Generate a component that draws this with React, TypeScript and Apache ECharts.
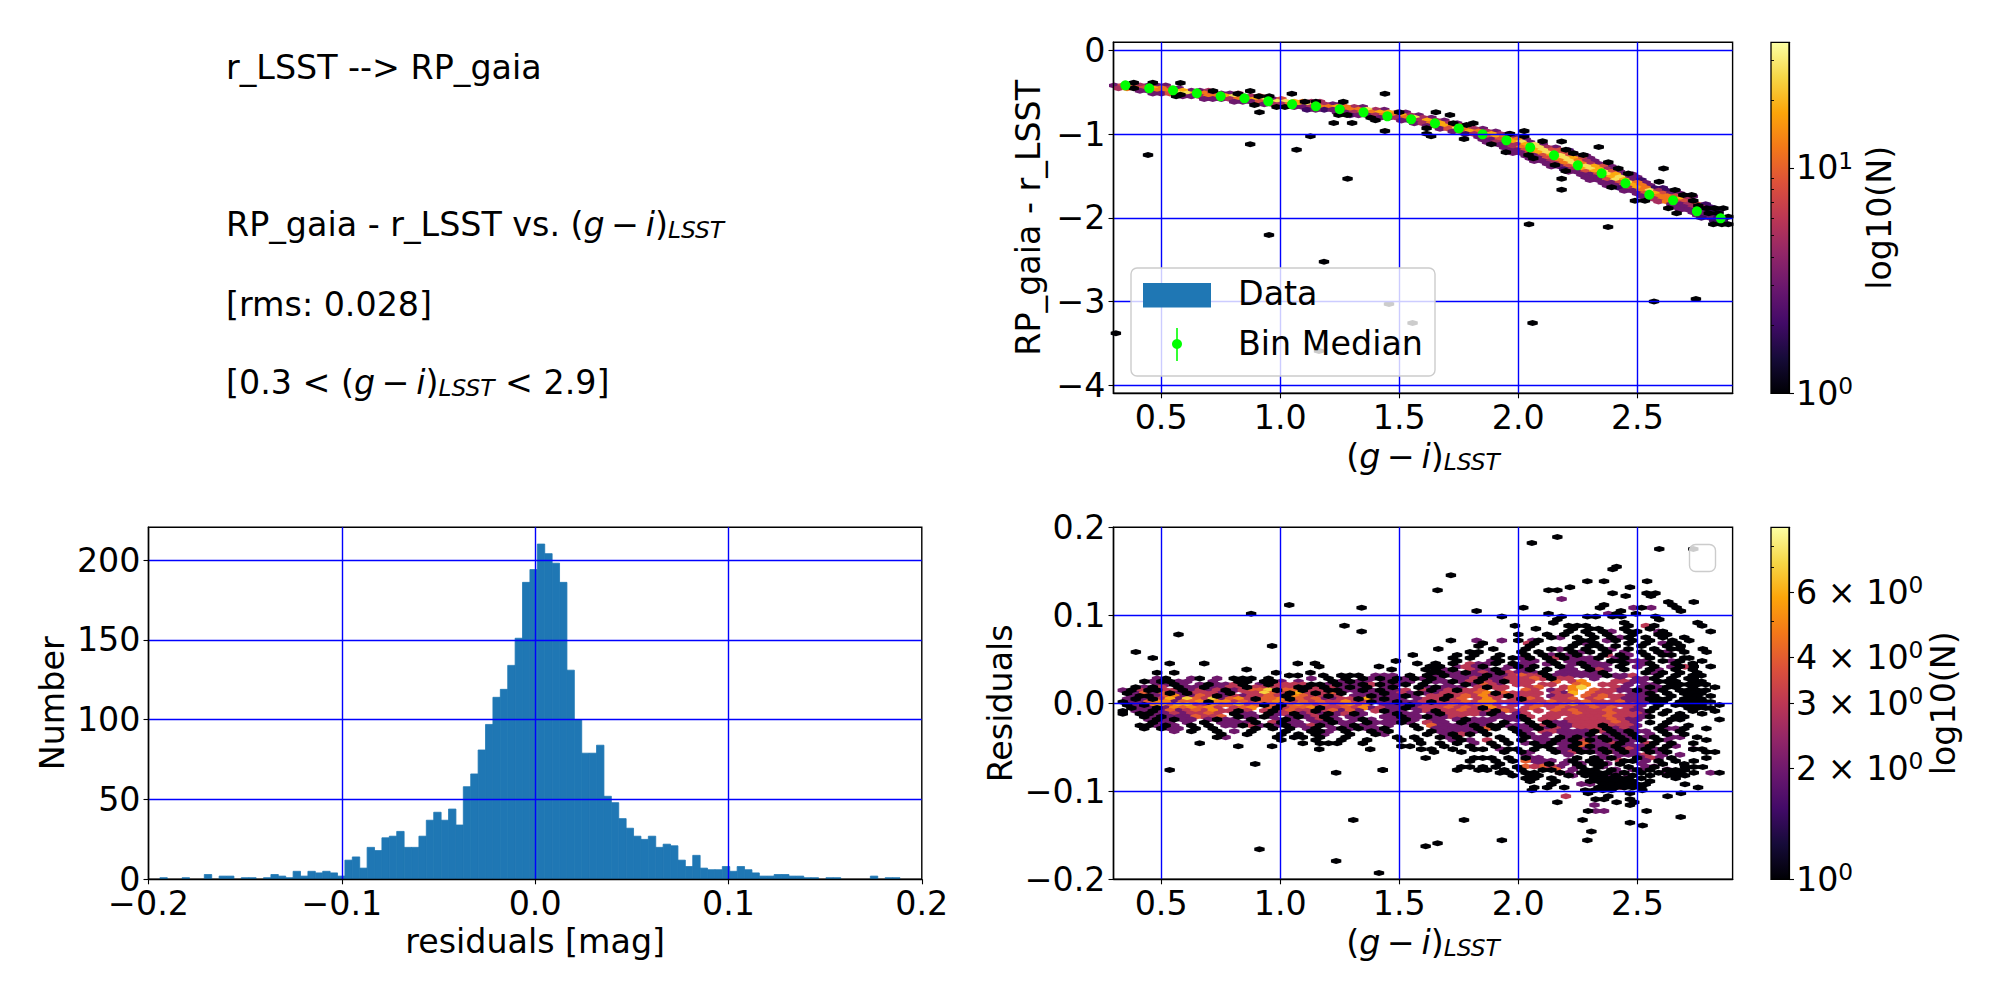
import React, { useEffect, useRef } from 'react';
import * as echarts from 'echarts';

// histogram of residuals
const histStart = -0.1941;
const histBinWidth = 0.003828;
const histCounts = [
  1, 0, 0, 1, 0, 0, 3, 0, 2, 2, 0, 1, 1, 0, 1, 3, 2, 1, 5, 2,
  5, 4, 5, 4, 2, 12, 14, 7, 20, 18, 26, 27, 30, 20, 20, 27, 37, 42, 37, 44,
  34, 58, 66, 81, 97, 114, 119, 134, 151, 186, 194, 210, 204, 198, 186, 131, 100, 79, 79, 84,
  52, 48, 38, 32, 27, 25, 27, 20, 22, 21, 12, 8, 15, 7, 6, 6, 8, 5, 8, 6,
  4, 2, 2, 3, 3, 2, 2, 1, 1, 0, 1, 1, 0, 0, 0, 0, 2, 0, 1, 1,
];

// bin medians of the colour term
const medianX = [0.35, 0.45, 0.55, 0.65, 0.75, 0.85, 0.95, 1.05, 1.15, 1.25, 1.35, 1.45, 1.55, 1.65, 1.75, 1.85, 1.95, 2.05, 2.15, 2.25, 2.35, 2.45, 2.55, 2.65, 2.75, 2.85];
const medianY = [-0.418, -0.454, -0.478, -0.513, -0.549, -0.573, -0.609, -0.645, -0.669, -0.704, -0.74, -0.788, -0.824, -0.872, -0.932, -1.003, -1.075, -1.159, -1.254, -1.373, -1.469, -1.588, -1.725, -1.791, -1.923, -2.006];

// hexbin cells, one row per line: [y, count, ...x]
const colourSparseRows = [
  [-0.386, 1, 0.385, 0.465], [-0.39, 1, 0.581], [-0.454, 1, 0.385], [-0.529, 1, 0.581], [-0.549, 1, 0.563, 0.91, 0.954],
  [-0.486, 1, 0.718, 0.874], [-0.517, 1, 0.822, 1.049, 1.44], [-0.653, 1, 0.892], [-0.74, 1, 0.913, 1.5, 1.654],
  [-0.677, 1, 0.985, 1.02], [-0.613, 1, 1.104, 1.15, 1.265], [-0.868, 1, 1.225, 1.302], [-0.772, 1, 1.245, 1.281, 1.713],
  [-0.804, 1, 1.38], [-0.836, 1, 1.4], [-0.963, 1, 1.44], [-0.931, 1, 1.615], [-1.027, 1, 1.634, 1.127, 2.025], [-0.995, 1, 1.615, 1.965],
  [-1.25, 1, 0.445, 2.273, 2.043], [-1.122, 1, 0.874, 1.887], [-1.186, 1, 1.069, 2.2], [-1.534, 1, 1.283, 2.182],
  [-0.872, 1, 1.811, 1.727], [-0.892, 1, 1.783], [-1.06, 1, 1.772], [-1.218, 1, 1.948], [-0.964, 1, 2.025], [-1.29, 1, 2.063],
  [-1.087, 1, 2.102], [-1.09, 1, 2.182], [-1.23, 1, 2.231], [-1.155, 1, 2.338], [-1.37, 1, 2.154], [-1.44, 1, 2.199],
  [-1.664, 1, 2.182], [-1.338, 1, 2.378], [-1.41, 1, 2.42, 2.61], [-1.47, 1, 2.462], [-1.569, 1, 2.591], [-1.636, 1, 2.392],
  [-1.796, 1, 2.49, 2.532, 2.735], [-1.668, 1, 2.658], [-1.727, 1, 2.693, 2.728], [-1.855, 1, 2.756], [-1.887, 1, 2.63, 2.791, 2.826, 2.861],
  [-1.947, 1, 2.665, 2.8, 2.84], [-1.987, 1, 2.882], [-2.078, 1, 2.819, 2.855, 2.882, 2.045], [-2.11, 1, 2.377],
  [-2.524, 1, 1.184], [-2.205, 1, 0.953], [-3.0, 1, 2.57], [-2.97, 1, 2.746], [-3.256, 1, 2.06, 1.556], [-3.03, 1, 1.457], [-3.38, 1, 0.31], [-3.59, 1, 1.163],
];
const colourRidgeRows = [
  [-0.42, 3, 0.303, 0.447, 0.483, 0.519], [-0.42, 8, 0.339, 0.375], [-0.42, 5, 0.411],
  [-0.452, 5, 0.321, 0.537], [-0.452, 12, 0.357, 0.393, 0.501], [-0.452, 8, 0.429], [-0.452, 18, 0.465], [-0.452, 3, 0.573],
  [-0.484, 3, 0.411, 0.447, 0.627, 0.663], [-0.484, 12, 0.483, 0.519], [-0.484, 18, 0.555, 0.591], [-0.484, 5, 0.699],
  [-0.516, 3, 0.465, 0.501, 0.753, 0.789], [-0.516, 8, 0.537], [-0.516, 27, 0.573, 0.609], [-0.516, 18, 0.645], [-0.516, 12, 0.681], [-0.516, 5, 0.717, 0.825],
  [-0.549, 3, 0.591, 0.627, 0.843], [-0.549, 5, 0.663, 0.879], [-0.549, 12, 0.699, 0.735], [-0.549, 18, 0.771], [-0.549, 27, 0.807], [-0.549, 8, 0.915],
  [-0.581, 3, 0.681, 0.717, 0.753, 0.969], [-0.581, 5, 0.789], [-0.581, 12, 0.825, 0.861], [-0.581, 18, 0.897], [-0.581, 27, 0.933], [-0.581, 8, 1.005],
  [-0.613, 3, 0.807, 0.843, 0.879], [-0.613, 8, 0.915], [-0.613, 12, 0.951, 1.095], [-0.613, 27, 0.987, 1.023], [-0.613, 18, 1.059], [-0.613, 5, 1.131, 1.167],
  [-0.645, 3, 0.933, 1.221, 1.257], [-0.645, 5, 0.969, 1.005, 1.185], [-0.645, 12, 1.041, 1.149], [-0.645, 18, 1.077], [-0.645, 27, 1.113],
  [-0.677, 3, 1.059, 1.095, 1.347], [-0.677, 5, 1.131, 1.311], [-0.677, 12, 1.167, 1.203, 1.275], [-0.677, 18, 1.239],
  [-0.71, 2, 1.113, 1.185], [-0.71, 3, 1.149, 1.221, 1.437], [-0.71, 5, 1.257, 1.401], [-0.71, 12, 1.293, 1.329], [-0.71, 27, 1.365],
  [-0.742, 3, 1.239, 1.275, 1.527], [-0.742, 5, 1.311, 1.491], [-0.742, 12, 1.347, 1.383], [-0.742, 18, 1.419, 1.455],
  [-0.774, 2, 1.293], [-0.774, 3, 1.329, 1.365, 1.581], [-0.774, 5, 1.401, 1.545], [-0.774, 12, 1.437, 1.473], [-0.774, 18, 1.509],
  [-0.806, 3, 1.419, 1.455, 1.635], [-0.806, 5, 1.491, 1.599], [-0.806, 12, 1.527], [-0.806, 27, 1.563],
  [-0.839, 3, 1.509, 1.545, 1.689], [-0.839, 5, 1.581, 1.653], [-0.839, 18, 1.617],
  [-0.871, 3, 1.563, 1.743], [-0.871, 5, 1.599, 1.707], [-0.871, 12, 1.635], [-0.871, 18, 1.671],
  [-0.903, 3, 1.617, 1.797], [-0.903, 8, 1.653, 1.761], [-0.903, 18, 1.689], [-0.903, 12, 1.725],
  [-0.935, 3, 1.671, 1.851], [-0.935, 8, 1.707], [-0.935, 27, 1.743], [-0.935, 12, 1.779], [-0.935, 5, 1.815],
  [-0.968, 3, 1.725, 1.905], [-0.968, 8, 1.761], [-0.968, 18, 1.797], [-0.968, 12, 1.833], [-0.968, 5, 1.869],
  [-1.0, 2, 1.779], [-1.0, 5, 1.815, 1.923], [-1.0, 12, 1.851], [-1.0, 18, 1.887], [-1.0, 3, 1.959],
  [-1.032, 3, 1.833, 1.977], [-1.032, 8, 1.869], [-1.032, 18, 1.905], [-1.032, 12, 1.941],
  [-1.064, 3, 1.851, 1.887, 2.031], [-1.064, 8, 1.923], [-1.064, 18, 1.959], [-1.064, 12, 1.995],
  [-1.097, 3, 1.869, 2.049], [-1.097, 5, 1.905, 1.941], [-1.097, 18, 1.977], [-1.097, 27, 2.013],
  [-1.129, 3, 1.923, 2.103], [-1.129, 5, 1.959, 1.995], [-1.129, 18, 2.031], [-1.129, 27, 2.067],
  [-1.161, 3, 1.941, 2.157], [-1.161, 5, 1.977, 2.121], [-1.161, 12, 2.013], [-1.161, 18, 2.049], [-1.161, 27, 2.085],
  [-1.193, 2, 2.211], [-1.193, 3, 1.959, 1.995], [-1.193, 8, 2.031, 2.139, 2.175], [-1.193, 18, 2.067], [-1.193, 27, 2.103],
  [-1.226, 3, 1.977, 2.013, 2.229], [-1.226, 8, 2.049, 2.157, 2.193], [-1.226, 18, 2.085], [-1.226, 27, 2.121],
  [-1.258, 3, 2.031, 2.067, 2.247, 2.283], [-1.258, 8, 2.103, 2.211], [-1.258, 18, 2.139], [-1.258, 27, 2.175],
  [-1.29, 3, 2.049, 2.085, 2.301], [-1.29, 8, 2.121, 2.265], [-1.29, 18, 2.157, 2.229], [-1.29, 27, 2.193],
  [-1.322, 3, 2.067, 2.103, 2.319], [-1.322, 5, 2.139, 2.283], [-1.322, 12, 2.175, 2.247], [-1.322, 27, 2.211],
  [-1.355, 3, 2.121, 2.337, 2.373], [-1.355, 5, 2.157, 2.301], [-1.355, 12, 2.193, 2.265], [-1.355, 27, 2.229],
  [-1.387, 3, 2.139, 2.175, 2.391], [-1.387, 8, 2.211, 2.355], [-1.387, 18, 2.247, 2.319], [-1.387, 27, 2.283],
  [-1.419, 2, 2.193], [-1.419, 5, 2.229, 2.373], [-1.419, 18, 2.265, 2.337], [-1.419, 27, 2.301], [-1.419, 3, 2.409],
  [-1.451, 3, 2.211, 2.247, 2.427], [-1.451, 8, 2.283, 2.391], [-1.451, 18, 2.319], [-1.451, 27, 2.355],
  [-1.484, 3, 2.265, 2.301, 2.445, 2.481], [-1.484, 8, 2.337], [-1.484, 27, 2.373], [-1.484, 18, 2.409],
  [-1.516, 3, 2.283, 2.319, 2.463, 2.499], [-1.516, 5, 2.355], [-1.516, 18, 2.391], [-1.516, 27, 2.427],
  [-1.548, 3, 2.301, 2.337, 2.481], [-1.548, 8, 2.373], [-1.548, 27, 2.409], [-1.548, 18, 2.445], [-1.548, 2, 2.517],
  [-1.58, 3, 2.355, 2.391, 2.535], [-1.58, 8, 2.427], [-1.58, 27, 2.463], [-1.58, 12, 2.499],
  [-1.613, 3, 2.373, 2.409, 2.553], [-1.613, 8, 2.445], [-1.613, 18, 2.481], [-1.613, 12, 2.517],
  [-1.645, 2, 2.427, 2.607, 2.571], [-1.645, 5, 2.463], [-1.645, 18, 2.499], [-1.645, 12, 2.535],
  [-1.677, 3, 2.445, 2.481], [-1.677, 12, 2.517], [-1.677, 27, 2.553], [-1.677, 5, 2.589], [-1.677, 2, 2.625, 2.661],
  [-1.709, 3, 2.499], [-1.709, 8, 2.535, 2.607], [-1.709, 18, 2.571], [-1.709, 3, 2.643, 2.679],
  [-1.742, 3, 2.517, 2.553], [-1.742, 12, 2.589, 2.625], [-1.742, 8, 2.661], [-1.742, 3, 2.697, 2.733],
  [-1.774, 5, 2.571], [-1.774, 12, 2.607, 2.643], [-1.774, 18, 2.679], [-1.774, 5, 2.715],
  [-1.806, 5, 2.589], [-1.806, 12, 2.625], [-1.806, 8, 2.661, 2.697], [-1.806, 3, 2.733],
  [-1.838, 3, 2.643, 2.679], [-1.838, 5, 2.715], [-1.838, 8, 2.751], [-1.838, 2, 2.787],
  [-1.871, 3, 2.661, 2.697], [-1.871, 5, 2.733, 2.769], [-1.871, 2, 2.805],
  [-1.903, 3, 2.679, 2.715], [-1.903, 2, 2.751, 2.787, 2.823],
  [-1.935, 3, 2.733, 2.769], [-1.935, 2, 2.805, 2.841],
  [-1.967, 3, 2.751, 2.787], [-1.967, 2, 2.823],
  [-2.0, 3, 2.805], [-2.0, 2, 2.769, 2.841],
  [-2.032, 2, 2.823, 2.859],
];

const residualBlackRows = [
  [0.189, 1, 2.164], [0.1822, 1, 2.057], [0.1754, 1, 2.592, 2.735], [0.1553, 1, 2.413], [0.1523, 1, 2.396], [0.1455, 1, 1.717],
  [0.1386, 1, 2.29, 2.36, 2.541], [0.1318, 1, 2.217, 2.469], [0.1284, 1, 1.661, 2.127, 2.164], [0.125, 1, 2.396, 2.539, 2.576],
  [0.122, 1, 2.451, 2.557], [0.1152, 1, 2.63, 2.737], [0.1117, 1, 1.038, 2.36, 2.647], [0.1087, 1, 1.342, 2.021, 2.343, 2.518, 2.665],
  [0.1049, 1, 1.825, 2.431, 2.683], [0.1019, 1, 0.878, 2.127, 2.413, 2.494], [0.0985, 1, 1.931, 2.182, 2.29, 2.325, 2.396, 2.433, 2.576],
  [0.0951, 1, 2.164, 2.592], [0.0915, 1, 2.147, 2.445, 2.753], [0.0882, 1, 1.27, 1.986, 2.211, 2.247, 2.283, 2.463, 2.571, 2.772],
  [0.0848, 1, 2.074, 2.229, 2.301, 2.337, 2.445, 2.553], [0.0815, 1, 1.342, 2.211, 2.283, 2.355, 2.463, 2.499, 2.607, 2.808],
  [0.0782, 1, 0.573, 2.0, 2.121, 2.193, 2.301, 2.373, 2.481, 2.589, 2.625],
  [0.0748, 1, 2.139, 2.247, 2.319, 2.391, 2.463, 2.535, 2.607, 2.697],
  [0.0715, 1, 1.717, 2.0, 2.085, 2.265, 2.301, 2.409, 2.481, 2.553, 2.647, 2.718],
  [0.0682, 1, 1.851, 2.067, 2.247, 2.319, 2.463, 2.535, 2.643, 2.665],
  [0.0652, 1, 0.966, 1.833, 2.049, 2.229, 2.301, 2.337, 2.409, 2.517, 2.625, 2.682],
  [0.0617, 1, 1.664, 1.895, 2.031, 2.139, 2.211, 2.283, 2.355, 2.463, 2.571, 2.643, 2.679, 2.775],
  [0.0583, 1, 0.394, 1.797, 1.833, 2.013, 2.085, 2.229, 2.301, 2.373, 2.517, 2.589, 2.697, 2.791],
  [0.0548, 1, 1.557, 1.743, 1.815, 1.923, 2.031, 2.103, 2.175, 2.247, 2.355, 2.427, 2.535, 2.607, 2.643],
  [0.0515, 1, 0.465, 1.725, 1.797, 1.905, 1.977, 2.049, 2.121, 2.193, 2.337, 2.445, 2.553, 2.697, 2.718],
  [0.0482, 1, 1.486, 1.743, 1.923, 2.139, 2.391, 2.427, 2.607, 2.679, 2.772],
  [0.0451, 1, 0.536, 0.681, 1.074, 1.146, 1.576, 1.653, 1.725, 1.905, 1.977, 2.157, 2.265, 2.445, 2.553, 2.661, 2.733],
  [0.0417, 1, 1.164, 1.415, 1.629, 1.671, 1.851, 2.067, 2.175, 2.283, 2.427, 2.571, 2.679, 2.737, 2.808],
  [0.0383, 1, 0.859, 1.468, 1.611, 1.653, 1.725, 1.905, 2.049, 2.121, 2.301, 2.445, 2.553, 2.661, 2.733],
  [0.0348, 1, 0.483, 0.555, 0.983, 1.127, 1.635, 1.671, 1.779, 1.923, 2.103, 2.355, 2.535, 2.607, 2.679, 2.751],
  [0.0315, 1, 1.038, 1.074, 1.181, 1.257, 1.293, 1.329, 1.545, 1.617, 1.689, 1.869, 2.121, 2.373, 2.589, 2.661, 2.733, 2.769],
  [0.0282, 1, 0.52, 0.662, 0.805, 0.843, 0.879, 0.951, 1.203, 1.275, 1.347, 1.419, 1.491, 1.563, 1.635, 1.851, 2.139, 2.571, 2.643, 2.715, 2.737],
  [0.0248, 1, 0.43, 0.501, 0.537, 0.825, 0.861, 0.933, 0.969, 1.221, 1.293, 1.473, 1.617, 1.725, 1.833, 1.941, 2.589, 2.625, 2.661, 2.733, 2.769],
  [0.0215, 1, 0.555, 0.699, 0.843, 0.951, 1.131, 1.167, 1.239, 1.347, 1.419, 1.527, 1.599, 1.779, 2.643, 2.679, 2.715, 2.751, 2.787],
  [0.0182, 1, 0.393, 0.465, 0.573, 0.681, 0.861, 1.077, 1.113, 1.185, 1.293, 1.365, 1.473, 1.581, 1.653, 1.869, 2.553, 2.625, 2.661, 2.733, 2.826],
  [0.0148, 1, 0.375, 0.447, 0.483, 0.591, 0.771, 0.987, 1.095, 1.203, 1.239, 1.347, 1.419, 1.635, 1.743, 2.499, 2.607, 2.679, 2.715, 2.751, 2.787],
  [0.0115, 1, 0.357, 0.537, 0.609, 0.789, 1.041, 1.149, 1.257, 1.437, 1.581, 1.905, 2.553, 2.625, 2.697, 2.733, 2.769],
  [0.0082, 1, 0.411, 0.447, 0.735, 1.023, 1.203, 1.383, 1.527, 1.707, 1.959, 2.571, 2.643, 2.715, 2.751, 2.808],
  [0.0048, 1, 0.393, 0.465, 0.897, 1.041, 1.329, 1.437, 1.689, 2.013, 2.553, 2.589, 2.625, 2.697, 2.733, 2.769],
  [0.0015, 1, 0.339, 0.699, 1.383, 1.491, 1.635, 2.571, 2.607, 2.679, 2.715, 2.751, 2.787, 2.808],
  [-0.0019, 1, 0.357, 0.429, 0.933, 1.005, 1.545, 2.589, 2.661, 2.697, 2.733, 2.769, 2.845],
  [-0.0052, 1, 0.375, 0.483, 0.987, 1.167, 1.527, 1.851, 2.571, 2.715, 2.751, 2.787, 2.808],
  [-0.0087, 1, 0.339, 0.465, 0.825, 0.969, 1.149, 1.437, 1.653, 1.905, 2.553, 2.625, 2.733, 2.826],
  [-0.0118, 1, 0.339, 0.411, 0.447, 0.807, 0.951, 1.059, 1.203, 1.311, 1.491, 1.671, 1.887, 2.607, 2.679, 2.772],
  [-0.0152, 1, 0.429, 0.501, 0.825, 0.933, 1.077, 1.185, 1.509, 1.617, 2.013, 2.553, 2.661, 2.697],
  [-0.0185, 1, 0.483, 0.555, 0.735, 0.879, 1.023, 1.203, 1.347, 1.527, 1.779, 2.031, 2.643, 2.679, 2.845],
  [-0.0218, 1, 0.465, 0.681, 0.897, 1.005, 1.221, 1.365, 1.509, 1.761, 1.941, 2.049, 2.121, 2.553, 2.625],
  [-0.0252, 1, 0.411, 0.447, 0.519, 0.627, 0.699, 0.843, 0.951, 1.023, 1.167, 1.311, 1.563, 1.815, 1.887, 1.923, 2.067, 2.139, 2.355, 2.607, 2.715],
  [-0.0285, 1, 0.429, 0.501, 0.645, 0.717, 0.897, 0.969, 1.041, 1.149, 1.257, 1.329, 1.437, 1.581, 1.833, 1.905, 1.977, 2.085, 2.373, 2.589, 2.697, 2.79],
  [-0.0318, 1, 0.627, 0.735, 0.879, 1.023, 1.131, 1.167, 1.275, 1.383, 1.455, 1.635, 1.851, 1.995, 2.319, 2.391, 2.463, 2.607, 2.679],
  [-0.0352, 1, 0.753, 0.861, 1.005, 1.077, 1.149, 1.293, 1.401, 1.617, 1.725, 1.797, 1.869, 2.013, 2.301, 2.409, 2.481, 2.625, 2.697],
  [-0.0385, 1, 0.735, 0.987, 1.059, 1.095, 1.167, 1.275, 1.491, 1.563, 1.671, 1.743, 1.923, 2.031, 2.175, 2.247, 2.355, 2.427, 2.499, 2.571, 2.751],
  [-0.0418, 1, 1.005, 1.149, 1.257, 1.365, 1.509, 1.581, 1.761, 1.941, 2.013, 2.157, 2.229, 2.301, 2.373, 2.445, 2.517, 2.589, 2.79],
  [-0.0455, 1, 0.662, 1.095, 1.167, 1.203, 1.239, 1.347, 1.592, 1.671, 1.743, 1.887, 1.959, 2.067, 2.139, 2.247, 2.427, 2.571, 2.643, 2.735],
  [-0.0489, 1, 0.824, 0.966, 1.509, 1.545, 1.689, 1.797, 1.905, 2.085, 2.121, 2.229, 2.301, 2.409, 2.553, 2.625],
  [-0.0523, 1, 1.164, 1.378, 1.592, 1.635, 1.725, 1.815, 1.851, 1.959, 1.995, 2.067, 2.139, 2.247, 2.355, 2.427, 2.535, 2.607, 2.735, 2.772],
  [-0.0553, 1, 1.646, 1.761, 1.941, 2.013, 2.157, 2.265, 2.301, 2.373, 2.445, 2.553, 2.625, 2.79, 2.826],
  [-0.0621, 1, 1.611, 1.815, 1.851, 1.887, 1.959, 2.031, 2.247, 2.319, 2.391, 2.499, 2.643, 2.79],
  [-0.0655, 1, 1.797, 1.905, 1.977, 2.229, 2.301, 2.337, 2.445, 2.481, 2.589, 2.661, 2.737],
  [-0.0689, 1, 0.895, 1.923, 2.13, 2.247, 2.319, 2.355, 2.427, 2.607, 2.697],
  [-0.0723, 1, 1.761, 1.797, 1.851, 1.905, 1.995, 2.265, 2.337, 2.463, 2.571, 2.7, 2.737, 2.775],
  [-0.0758, 1, 0.536, 1.431, 1.743, 1.833, 1.869, 1.941, 2.013, 2.103, 2.139, 2.283, 2.319, 2.391, 2.499, 2.553, 2.625, 2.661, 2.7],
  [-0.0788, 1, 1.235, 1.923, 1.959, 2.031, 2.067, 2.175, 2.265, 2.301, 2.337, 2.373, 2.445, 2.517, 2.589, 2.643, 2.679, 2.737, 2.845],
  [-0.082, 1, 1.977, 2.049, 2.085, 2.211, 2.283, 2.319, 2.355, 2.409, 2.481, 2.553, 2.625, 2.661, 2.7],
  [-0.0852, 1, 2.031, 2.067, 2.139, 2.319, 2.355, 2.391, 2.427, 2.463, 2.517, 2.661],
  [-0.0885, 1, 2.049, 2.157, 2.301, 2.337, 2.373, 2.409, 2.445, 2.481, 2.553],
  [-0.092, 1, 2.139, 2.355, 2.391, 2.427, 2.463, 2.499, 2.535, 2.7],
  [-0.0958, 1, 2.067, 2.121, 2.193, 2.337, 2.373, 2.409, 2.445, 2.481, 2.517, 2.755],
  [-0.0989, 1, 2.057, 2.281, 2.319, 2.355, 2.391, 2.521],
  [-0.1023, 1, 2.293, 2.469, 2.683],
  [-0.1057, 1, 2.378, 2.627], [-0.1091, 1, 2.325, 2.36, 2.469], [-0.1125, 1, 2.164, 2.413, 2.487], [-0.1155, 1, 2.469],
  [-0.1223, 1, 2.293, 2.539], [-0.1292, 1, 2.682], [-0.1326, 1, 1.307, 2.27, 1.772], [-0.1356, 1, 2.469], [-0.139, 1, 2.522],
  [-0.1458, 1, 2.307], [-0.1557, 1, 2.29, 1.931], [-0.1591, 1, 1.661], [-0.1625, 1, 1.611], [-0.1659, 1, 0.913], [-0.1792, 1, 1.235], [-0.1928, 1, 1.415],
  [0.0417, 1, 2.0], [-0.0758, 1, 1.431],
];
const residualColourRows = [
  [0.1186, 2, 2.182], [0.1087, 2, 2.484, 2.558], [0.1019, 2, 2.378], [0.0882, 3, 2.536], [0.0815, 2, 2.589, 2.391],
  [0.0748, 2, 2.175, 2.427], [0.0715, 2, 1.825, 1.931, 2.06, 2.373], [0.0682, 3, 2.041], [0.0682, 2, 2.607, 2.283], [0.0615, 2, 2.175, 2.391], [0.0582, 2, 2.625, 2.589, 2.265, 2.445],
  [0.0548, 2, 2.139, 2.211, 2.639, 2.463], [0.0548, 3, 2.375], [0.0515, 2, 2.013, 2.229, 2.265, 2.301, 2.409], [0.0515, 3, 2.157],
  [0.0482, 2, 1.887, 2.031, 2.067, 2.211, 2.247, 2.283, 2.319, 2.463, 2.499, 2.535, 2.643],
  [0.0448, 2, 1.869, 1.833, 2.013, 2.049, 2.121, 2.229, 2.301, 2.337, 2.373, 2.517], [0.0448, 3, 1.797],
  [0.0415, 2, 1.743, 1.815, 1.959, 1.995, 2.031, 2.211, 2.319, 2.355, 2.499, 2.643], [0.0415, 3, 1.779, 2.7],
  [0.0382, 2, 1.689, 1.833, 1.869, 1.941, 2.013, 2.193, 2.229, 2.373, 2.589], [0.0382, 3, 1.797, 2.337],
  [0.0348, 2, 1.707, 1.743, 1.815, 1.887, 1.995, 2.031, 2.067, 2.175, 2.211, 2.247, 2.283, 2.319, 2.571], [0.0348, 3, 1.851, 1.959],
  [0.0315, 2, 1.401, 1.437, 1.473, 1.653, 1.725, 1.761, 1.797, 1.833, 1.905, 1.941, 2.157, 2.193, 2.229, 2.265, 2.301, 2.337, 2.409, 2.445], [0.0315, 3, 1.977, 2.049, 2.085, 2.481], [0.0315, 4, 2.013],
  [0.0282, 2, 0.483, 0.627, 0.735, 1.131, 1.383, 1.455, 1.527, 1.599, 1.671, 1.743, 1.779, 1.887, 1.923, 2.319, 2.427, 2.499, 2.535], [0.0282, 3, 1.815, 1.959, 2.103, 2.211, 2.031, 2.175, 1.995], [0.0282, 4, 2.067],
  [0.0248, 2, 0.465, 0.573, 0.609, 0.717, 1.005, 1.077, 1.257, 1.329, 1.365, 1.437, 1.509, 1.545, 1.653, 1.689, 1.761, 1.905, 2.481, 2.517], [0.0248, 3, 1.797, 1.869, 1.977, 2.013, 2.049, 2.229, 2.409, 2.445], [0.0248, 4, 2.157], [0.0248, 5, 2.265],
  [0.0215, 2, 0.483, 0.519, 0.591, 0.663, 0.735, 0.771, 0.915, 1.203, 1.275, 1.311, 1.455, 1.491, 1.707, 1.815, 1.923, 2.463, 2.535, 2.571], [0.0215, 3, 0.807, 0.987, 1.023, 1.059, 1.095, 1.383, 1.887, 1.995, 2.031, 2.103, 2.139, 2.355, 2.391], [0.0215, 4, 1.851, 2.247], [0.0215, 5, 2.283],
  [0.0182, 2, 0.429, 0.609, 0.645, 0.717, 0.753, 1.257, 1.329, 1.437, 1.617, 1.689, 1.725, 1.761, 2.445, 2.517, 2.589], [0.0182, 3, 0.501, 0.789, 0.825, 0.897, 0.933, 0.969, 1.005, 1.041, 1.149, 1.221, 1.833, 1.905, 1.941, 2.049, 2.193, 2.409], [0.0182, 4, 1.869, 2.085], [0.0182, 5, 2.229], [0.0182, 7, 2.265],
  [0.0148, 2, 0.339, 0.627, 0.699, 0.807, 1.275, 1.311, 1.383, 1.455, 1.491, 1.671, 2.139, 2.427, 2.463, 2.535, 2.571], [0.0148, 3, 0.411, 0.519, 0.555, 0.663, 0.735, 0.843, 1.131, 1.167, 1.527, 1.599, 1.707, 1.779, 1.815, 1.923, 2.067, 2.175, 2.355, 2.391], [0.0148, 4, 0.879, 0.915, 1.023, 1.059, 1.851, 2.031, 2.319], [0.0148, 5, 2.229], [0.0148, 7, 0.951],
  [0.0115, 2, 0.393, 0.465, 0.573, 0.753, 1.329, 1.365, 1.401, 1.473, 1.545, 1.617, 1.653, 2.193, 2.481, 2.517], [0.0115, 3, 0.645, 0.681, 0.717, 0.861, 0.897, 1.005, 1.113, 1.185, 1.509, 1.689, 1.725, 1.761, 1.797, 1.977, 2.013, 2.049, 2.085, 2.157, 2.337, 2.373], [0.0115, 4, 0.429, 0.501, 0.933, 0.969, 1.077, 1.221, 1.833, 1.941, 2.301], [0.0115, 5, 1.041, 1.869], [0.0115, 6, 2.229, 1.077], [0.0115, 7, 0.933],
  [0.0082, 2, 0.375, 0.483, 0.591, 0.627, 0.771, 0.843, 1.311, 1.347, 1.419, 1.455, 1.491, 1.563, 2.139, 2.463, 2.499, 2.535], [0.0082, 3, 0.699, 0.807, 0.879, 0.915, 0.987, 1.131, 1.167, 1.239, 1.635, 1.671, 1.743, 1.815, 1.887, 1.923, 1.995, 2.031, 2.067, 2.175, 2.211, 2.319, 2.391, 2.427], [0.0082, 4, 0.519, 0.663, 0.951, 1.095, 1.779, 2.283, 2.355], [0.0082, 5, 0.555, 1.059, 1.851],
  [0.0048, 2, 0.357, 0.429, 0.573, 0.753, 1.185, 1.221, 1.365, 1.401, 1.473, 1.509, 1.581, 2.445, 2.481, 2.517], [0.0048, 3, 0.501, 0.681, 0.861, 1.113, 1.257, 1.293, 1.617, 1.653, 1.689, 1.725, 1.833, 1.905, 1.977, 2.085, 2.157, 2.193, 2.301, 2.409], [0.0048, 4, 0.537, 0.645, 0.789, 0.933, 0.969, 1.077, 1.149, 1.761, 2.049, 2.229, 2.337], [0.0048, 5, 0.465, 0.825, 1.005, 1.869], [0.0048, 6, 0.537, 1.365], [0.0048, 7, 0.609, 0.717],
  [0.0015, 2, 0.375, 0.411, 0.555, 1.419, 1.455, 1.527, 1.563, 2.463, 2.499, 2.535], [0.0015, 3, 0.807, 0.879, 1.059, 1.131, 1.203, 1.239, 1.311, 1.347, 1.599, 1.671, 1.707, 1.743, 1.815, 1.923, 1.959, 1.995, 2.031, 2.067, 2.103, 2.175, 2.211, 2.247, 2.319, 2.355, 2.391], [0.0015, 4, 0.447, 0.591, 0.627, 0.843, 0.915, 0.951, 1.023, 1.095, 1.167, 1.779, 2.139, 2.283, 2.427], [0.0015, 5, 0.483, 0.519, 0.663, 0.735, 0.771, 0.987, 1.275, 1.851, 1.887],
  [-0.0019, 2, 0.393, 1.437, 1.473, 1.509, 1.581, 2.517], [-0.0019, 3, 0.645, 0.681, 0.861, 1.149, 1.221, 1.329, 1.617, 1.653, 1.689, 1.761, 1.797, 1.905, 1.977, 2.049, 2.121, 2.157, 2.265, 2.337, 2.373, 2.409, 2.445, 2.481], [-0.0019, 4, 0.537, 0.753, 0.789, 0.897, 0.969, 1.041, 1.113, 1.185, 1.257, 1.725, 1.833, 2.085, 2.193, 2.301], [-0.0019, 5, 0.465, 0.573, 0.717, 0.825, 1.077, 1.293, 1.365, 1.869, 2.229], [-0.0019, 6, 0.501, 0.609, 0.573, 0.825],
  [-0.0052, 2, 0.447, 0.519, 0.411, 1.383, 1.455, 1.491, 1.563, 2.499], [-0.0052, 3, 0.735, 0.807, 1.023, 1.203, 1.239, 1.311, 1.419, 1.599, 1.635, 1.671, 1.743, 1.815, 1.923, 1.959, 2.031, 2.139, 2.211, 2.247, 2.283, 2.355, 2.463], [-0.0052, 4, 0.591, 0.663, 0.843, 0.951, 1.059, 1.095, 1.275, 1.707, 1.779, 2.067, 2.175, 2.319, 2.391], [-0.0052, 5, 0.555, 0.627, 0.699, 0.879, 1.131, 1.347, 1.887],
  [-0.0085, 2, 0.393, 0.429, 0.501, 0.573, 1.257, 1.329, 1.473, 1.509, 1.581, 2.481, 2.517], [-0.0085, 3, 0.609, 0.681, 0.753, 0.789, 0.861, 0.933, 1.005, 1.077, 1.113, 1.185, 1.401, 1.617, 1.689, 1.725, 1.797, 1.833, 1.869, 1.977, 2.013, 2.085, 2.193, 2.265, 2.301, 2.337, 2.409, 2.445], [-0.0085, 4, 0.537, 0.645, 1.041, 1.221, 1.293, 1.761, 1.941, 2.157, 2.229, 2.373], [-0.0085, 5, 0.717],
  [-0.0118, 2, 0.483, 0.519, 0.591, 0.843, 0.879, 0.987, 1.095, 1.167, 1.239, 1.347, 1.455, 1.527, 1.563, 1.635, 1.851, 1.923, 1.995, 2.535], [-0.0118, 3, 0.555, 0.627, 0.663, 0.735, 1.023, 1.131, 1.275, 1.707, 1.743, 1.779, 1.815, 2.031, 2.139, 2.175, 2.211, 2.283, 2.319, 2.355, 2.427, 2.463, 2.499], [-0.0118, 4, 0.699, 2.247, 2.391],
  [-0.0152, 2, 0.465, 0.537, 0.573, 0.609, 0.861, 0.897, 0.969, 1.041, 1.113, 1.221, 1.293, 1.329, 1.437, 1.473, 1.545, 1.581, 1.653, 1.689, 1.905, 1.941, 1.977, 2.517], [-0.0152, 3, 0.681, 0.717, 1.149, 1.725, 1.761, 2.049, 2.121, 2.157, 2.229, 2.265, 2.301, 2.337, 2.409, 2.445, 2.481], [-0.0152, 4, 0.645, 0.753, 2.373],
  [-0.0185, 2, 0.447, 0.519, 0.591, 0.627, 0.699, 0.771, 0.807, 0.987, 1.059, 1.131, 1.239, 1.311, 1.383, 1.455, 1.491, 1.563, 1.635, 1.671, 1.743, 1.815, 1.851, 1.887, 1.959, 1.995, 2.463, 2.499], [-0.0185, 3, 0.735, 1.167, 2.103, 2.139, 2.211, 2.247, 2.283, 2.319, 2.355, 2.427], [-0.0185, 4, 2.391],
  [-0.0218, 2, 0.501, 0.537, 0.609, 0.753, 0.789, 0.825, 0.861, 0.969, 1.041, 1.077, 1.149, 1.185, 1.257, 1.293, 1.401, 1.437, 1.473, 1.545, 1.653, 1.689, 1.797, 1.833, 1.869, 2.157, 2.193, 2.481], [-0.0218, 3, 0.969, 1.617, 2.229, 2.265, 2.301, 2.337, 2.373, 2.445], [-0.0218, 4, 2.409],
  [-0.0252, 2, 0.483, 0.555, 0.771, 0.807, 0.915, 0.987, 1.059, 1.095, 1.203, 1.275, 1.347, 1.383, 1.455, 1.671, 1.707, 1.743, 1.779, 1.851, 1.959, 1.995, 2.031, 2.175, 2.211, 2.499], [-0.0252, 3, 0.879, 1.131, 2.103, 2.247, 2.283, 2.319, 2.391, 2.427, 2.463], [-0.0252, 4, 1.635],
  [-0.0285, 2, 0.537, 0.573, 1.113, 1.221, 1.293, 1.365, 1.401, 1.653, 1.689, 1.725, 1.761, 1.797, 2.013, 2.049, 2.121, 2.193, 2.409, 2.481, 2.625, 2.661], [-0.0285, 3, 2.157, 2.265, 2.301, 2.337, 2.445], [-0.0285, 4, 1.869],
  [-0.0318, 2, 0.555, 0.807, 1.203, 1.419, 1.671, 1.707, 1.743, 1.779, 1.815, 2.031, 2.175, 2.211, 2.247, 2.283, 2.427, 2.499, 2.535], [-0.0318, 3, 2.139, 2.103, 2.355], [-0.0318, 4, 2.319],
  [-0.0352, 2, 1.185, 1.437, 1.689, 2.049, 2.121, 2.193, 2.229, 2.265, 2.373, 2.445, 2.553], [-0.0352, 3, 1.761],
  [-0.0385, 2, 0.771, 1.707, 2.067, 2.103, 2.211, 2.283, 2.319, 2.391, 2.463, 2.535, 2.643, 2.679],
  [-0.0418, 2, 1.725, 1.797, 2.085, 2.121, 2.193, 2.337, 2.409, 2.481, 2.625], [-0.0418, 3, 1.869, 2.265],
  [-0.0452, 2, 1.815, 2.031, 2.103, 2.175, 2.211, 2.319, 2.355, 2.463], [-0.0452, 3, 2.391, 2.535], [-0.0452, 4, 2.283],
  [-0.0485, 2, 2.193, 2.337, 2.373, 2.445, 2.481, 2.517, 2.661], [-0.0485, 3, 2.409], [-0.0485, 4, 2.265, 2.553],
  [-0.0518, 2, 1.923, 2.175, 2.211, 2.283, 2.319, 2.391, 2.499, 2.571, 2.735], [-0.0518, 3, 2.463],
  [-0.0552, 2, 2.049, 2.193, 2.337, 2.409, 2.481, 2.589], [-0.0552, 3, 2.229], [-0.0552, 4, 2.445, 2.373],
  [-0.0585, 2, 2.031, 2.211, 2.355, 2.427, 2.463, 2.499, 2.607, 2.679], [-0.0585, 3, 2.535],
  [-0.0618, 2, 2.049, 2.085, 2.337, 2.373, 2.409, 2.517, 2.589], [-0.0618, 3, 2.553],
  [-0.0652, 2, 2.067, 2.103, 2.139, 2.211, 2.535], [-0.0652, 3, 2.427], [-0.0652, 4, 2.031],
  [-0.0685, 2, 2.085, 2.121, 2.193, 2.265, 2.337, 2.373, 2.517],
  [-0.0718, 2, 2.139, 2.175, 2.247, 2.355, 2.535, 2.571], [-0.0718, 4, 2.031, 2.103], [-0.0718, 3, 2.067, 2.139],
  [-0.0752, 2, 2.229, 2.409, 2.481, 2.517, 2.553, 2.625], [-0.0752, 4, 2.157],
  [-0.0788, 2, 2.211, 2.391, 2.427, 2.607, 2.808], [-0.0788, 3, 2.175],
  [-0.082, 2, 2.229, 2.373, 2.463], [-0.0852, 2, 2.041], [-0.0885, 2, 2.445, 2.373], [-0.0918, 2, 2.409, 2.265, 2.301],
  [-0.0952, 3, 2.43], [-0.1057, 3, 2.2], [-0.1155, 2, 2.32], [-0.1223, 2, 2.325, 2.36],
];

const colourVmax = 36;
const residualVmax = 9;
const colourMinor = [2, 3, 4, 5, 6, 7, 8, 9, 20, 30];
const residualMajor = [1, 2, 3, 4, 6];
const residualMinor = [5, 7, 8, 9];

const inferno = ['#000004', '#160b39', '#420a68', '#6a176e', '#932667', '#bc3754', '#dd513a', '#f37819', '#fca50a', '#f6d746', '#fcffa4'];

const rowsToCells = (rows: number[][]) =>
  rows.flatMap(([y, n, ...xs]) => xs.map((x) => [x, y, n]));

function infernoColor(t: number) {
  const v = Math.max(0, Math.min(1, t)) * (inferno.length - 1);
  const i = Math.min(Math.floor(v), inferno.length - 2);
  const f = v - i;
  const rgb = (h: string) => [1, 3, 5].map((p) => parseInt(h.slice(p, p + 2), 16));
  const a = rgb(inferno[i]);
  const b = rgb(inferno[i + 1]);
  return `rgb(${a.map((c, k) => Math.round(c + (b[k] - c) * f)).join(',')})`;
}

const FONT = '"DejaVu Sans"';
const FS = 33.3;
const HEX = 'path://M0 2L2 1L2 -1L0 -2L-2 -1L-2 1Z';
const BLUE = '#0000ff';
const mathRich = {
  m: { fontFamily: FONT, fontSize: FS, color: '#000' },
  i: { fontFamily: FONT, fontSize: FS, fontStyle: 'italic', color: '#000' },
  s: { fontFamily: FONT, fontSize: FS * 0.7, fontStyle: 'italic', color: '#000', verticalAlign: 'bottom', lineHeight: 30 },
};
const gi = '{m|(}{i|g}{m|\u2009−\u2009}{i|i}{m|)}{s|LSST}';
const minus = (s: string) => s.replace('-', '−');

const plotGrid = (left: number, top: number, right: number, bottom: number) => ({
  left, top, width: right - left, height: bottom - top, show: true, borderColor: '#000', borderWidth: 1.4, backgroundColor: '#fff',
});

const valueAxis = (gridIndex: number, min: number, max: number, ticks: number[], digits: number, name: string, nameGap: number, lines: boolean[]) => ({
  type: 'value', gridIndex, min, max, z: 5, silent: true,
  axisLine: { show: true, onZero: false, lineStyle: { color: '#000', width: 1.4 } },
  axisTick: { show: true, length: 5, lineStyle: { color: '#000', width: 1.1 }, customValues: ticks },
  axisLabel: {
    customValues: ticks, color: '#000', fontFamily: FONT, fontSize: FS, margin: 8, hideOverlap: false,
    showMinLabel: true, showMaxLabel: true,
    formatter: (v: number) => minus(v.toFixed(digits)),
  },
  splitLine: { show: true, showMinLine: lines[0], showMaxLine: lines[1], lineStyle: { color: BLUE, width: 1.4 } },
  name, nameLocation: 'middle', nameGap,
  nameTextStyle: { color: '#000', fontFamily: FONT, fontSize: FS, rich: mathRich },
});

const cbarHidden = (gridIndex: number) => ({
  type: 'value', gridIndex, min: 0, max: 1, show: false,
});

const cbarRich = {
  b: { fontFamily: FONT, fontSize: FS, color: '#000' },
  p: { fontFamily: FONT, fontSize: FS * 0.7, color: '#000', verticalAlign: 'top', lineHeight: 38 },
};

const cbarAxis = (gridIndex: number, vmax: number, major: number[], label: (n: number) => string, gap: number) => ({
  type: 'value', gridIndex, min: 0, max: Math.log10(vmax), position: 'right', z: 5, silent: true,
  axisLine: { show: true, onZero: false, lineStyle: { color: '#000', width: 1.2 } },
  axisTick: { show: true, length: 5, lineStyle: { color: '#000', width: 1.1 }, customValues: major.map(Math.log10) },
  axisLabel: {
    customValues: major.map(Math.log10), margin: 7, hideOverlap: false, showMinLabel: true, showMaxLabel: true,
    formatter: (v: number) => label(Math.round(10 ** v)), rich: cbarRich,
  },
  splitLine: { show: false },
  name: 'log10(N)', nameLocation: 'middle', nameGap: gap, nameRotate: 90,
  nameTextStyle: { color: '#000', fontFamily: FONT, fontSize: FS },
});

const cbarMinorAxis = (gridIndex: number, vmax: number, minor: number[]) => ({
  type: 'value', gridIndex, min: 0, max: Math.log10(vmax), position: 'right', z: 5, silent: true,
  axisLine: { show: false },
  axisTick: { show: true, length: 3, lineStyle: { color: '#000', width: 0.9 }, customValues: minor.map(Math.log10) },
  axisLabel: { show: false },
  splitLine: { show: false },
});

const hexSeries = (axisIndex: number, rows: number[][], vmax: number) => ({
  type: 'scatter', xAxisIndex: axisIndex, yAxisIndex: axisIndex, symbol: HEX, symbolSize: [10.4, 6], clip: true, z: 2,
  data: rowsToCells(rows),
  itemStyle: { opacity: 1, color: (p: any) => infernoColor(Math.log(p.value[2]) / Math.log(vmax)) },
});

const cbarSeries = (xIndex: number, yIndex: number, vmax: number) => ({
  type: 'custom', xAxisIndex: xIndex, yAxisIndex: yIndex, z: 2, data: [[0, 1, 0, Math.log10(vmax)]],
  renderItem: (_: any, api: any) => {
    const a = api.coord([api.value(0), api.value(3)]);
    const b = api.coord([api.value(1), api.value(2)]);
    return {
      type: 'rect',
      shape: { x: a[0], y: a[1], width: b[0] - a[0], height: b[1] - a[1] },
      style: {
        fill: new echarts.graphic.LinearGradient(0, 1, 0, 0, inferno.map((color, i) => ({ offset: i / (inferno.length - 1), color }))),
        stroke: '#000',
        lineWidth: 1.3,
      },
    };
  },
});

const noteText = (x: number, y: number, text: string) => ({
  type: 'text', x, y, z: 10,
  style: {
    text, fill: '#000', font: `${FS}px ${FONT}`, verticalAlign: 'middle',
    rich: mathRich,
  },
});

export default function App() {
  const chartRef = useRef<HTMLDivElement>(null);

  useEffect(() => {
    if (!chartRef.current) return;
    document.body.style.margin = '0';
    const chart = echarts.init(chartRef.current, undefined, { renderer: 'svg' });

    chart.setOption({
      animation: false,
      backgroundColor: '#fff',
      textStyle: { fontFamily: FONT },
      grid: [
        plotGrid(148.5, 527.3, 921.8, 879.3),
        plotGrid(1113.5, 42.3, 1732.6, 393.3),
        { left: 1771, top: 42.3, width: 18, height: 351, show: false },
        plotGrid(1113.5, 527.3, 1732.6, 879.3),
        { left: 1771, top: 527.3, width: 18, height: 352, show: false },
      ],
      xAxis: [
        valueAxis(0, -0.2, 0.2, [-0.2, -0.1, 0, 0.1, 0.2], 1, 'residuals [mag]', 46, [false, false]),
        valueAxis(1, 0.3, 2.9, [0.5, 1, 1.5, 2, 2.5], 1, gi, 47, [true, true]),
        cbarHidden(2),
        valueAxis(3, 0.3, 2.9, [0.5, 1, 1.5, 2, 2.5], 1, gi, 47, [true, true]),
        cbarHidden(4),
      ],
      yAxis: [
        valueAxis(0, 0, 220.5, [0, 50, 100, 150, 200], 0, 'Number', 80, [false, true]),
        valueAxis(1, -4.096, 0.096, [-4, -3, -2, -1, 0], 0, 'RP_gaia - r_LSST', 69, [true, true]),
        cbarAxis(2, colourVmax, [1, 10], (n) => `{b|10}{p|${n === 1 ? 0 : 1}}`, 74),
        valueAxis(3, -0.2, 0.2, [-0.2, -0.1, 0, 0.1, 0.2], 1, 'Residuals', 97, [false, false]),
        cbarAxis(4, residualVmax, residualMajor, (n) => (n === 1 ? '{b|10}{p|0}' : `{b|${n} × 10}{p|0}`), 125),
        cbarMinorAxis(2, colourVmax, colourMinor),
        cbarMinorAxis(4, residualVmax, residualMinor),
      ],
      series: [
        {
          type: 'custom', xAxisIndex: 0, yAxisIndex: 0, z: 2,
          data: histCounts
            .map((n, i) => [histStart + i * histBinWidth, histStart + (i + 1) * histBinWidth, n])
            .filter((d) => d[2] > 0),
          encode: { x: [0, 1], y: 2 },
          renderItem: (_: any, api: any) => {
            const a = api.coord([api.value(0), api.value(2)]);
            const b = api.coord([api.value(1), 0]);
            return {
              type: 'rect',
              shape: { x: a[0], y: a[1], width: b[0] - a[0], height: b[1] - a[1] },
              style: { fill: '#1f77b4', stroke: '#1f77b4', lineWidth: 0.8 },
            };
          },
        },
        hexSeries(1, [...colourRidgeRows, ...colourSparseRows], colourVmax),
        {
          type: 'scatter', xAxisIndex: 1, yAxisIndex: 1, symbol: 'circle', symbolSize: 10, z: 3,
          data: medianX.map((x, i) => [x, medianY[i]]),
          itemStyle: { color: '#00ff00', opacity: 1 },
        },
        cbarSeries(2, 2, colourVmax),
        hexSeries(3, [...residualColourRows, ...residualBlackRows], residualVmax),
        cbarSeries(4, 4, residualVmax),
      ],
      graphic: {
        elements: [
          noteText(226, 67, 'r_LSST --> RP_gaia'),
          noteText(226, 224, `RP_gaia - r_LSST vs. ${gi}`),
          noteText(226, 304, '[rms: 0.028]'),
          noteText(226, 382, `[0.3 < ${gi} < 2.9]`),
          {
            type: 'rect', z: 20, shape: { x: 1131, y: 268, width: 304, height: 108, r: 6 },
            style: { fill: 'rgba(255,255,255,0.8)', stroke: '#cccccc', lineWidth: 1.4 },
          },
          { type: 'rect', z: 21, shape: { x: 1143, y: 283, width: 68, height: 24.5 }, style: { fill: '#1f77b4' } },
          { type: 'line', z: 21, shape: { x1: 1177, y1: 328, x2: 1177, y2: 361 }, style: { stroke: '#00ff00', lineWidth: 1.6 } },
          { type: 'circle', z: 21, shape: { cx: 1177, cy: 344, r: 5 }, style: { fill: '#00ff00' } },
          { type: 'text', z: 21, x: 1238, y: 293, style: { text: 'Data', fill: '#000', font: `${FS}px ${FONT}`, verticalAlign: 'middle' } },
          { type: 'text', z: 21, x: 1238, y: 343, style: { text: 'Bin Median', fill: '#000', font: `${FS}px ${FONT}`, verticalAlign: 'middle' } },
          {
            type: 'rect', z: 20, shape: { x: 1689.5, y: 544.5, width: 26, height: 27, r: 6 },
            style: { fill: 'rgba(255,255,255,0.8)', stroke: '#cccccc', lineWidth: 1.4 },
          },
        ],
      },
    });

    return () => {
      chart.dispose();
    };
  }, []);

  return <div ref={chartRef} style={{ width: 2000, height: 1000 }} />;
}
